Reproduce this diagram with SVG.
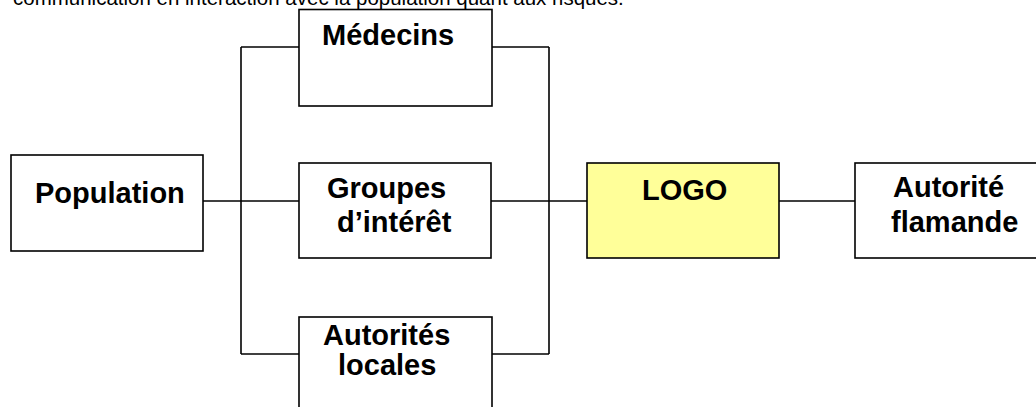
<svg xmlns="http://www.w3.org/2000/svg" width="1036" height="407" viewBox="0 0 1036 407">
<style>
.box{fill:#fff;stroke:#000;stroke-width:1.6}
.logo{fill:#ffff99;stroke:#000;stroke-width:1.6}
.lbl{font-family:"Liberation Sans",Arial,sans-serif;font-weight:bold;font-size:29px;fill:#000}
.head{font-family:"Liberation Sans",Arial,sans-serif;font-size:20.5px;fill:#000}
#connectors path{fill:none;stroke:#000;stroke-width:1.6}
</style>
<rect width="1036" height="407" fill="#fff"/>
<text class="head" x="13" y="4.5">communication en interaction avec la population quant aux risques.</text>
<g id="connectors">
<path d="M203 201H587"/>
<path d="M241 47V354"/>
<path d="M241 47H299"/>
<path d="M241 354H299"/>
<path d="M549 47V354"/>
<path d="M492 47H549"/>
<path d="M492 354H549"/>
<path d="M779 201H855"/>
</g>
<g id="population">
<rect class="box" x="11" y="155" width="192" height="96"/>
<text class="lbl" x="35" y="203">Population</text>
</g>
<g id="medecins">
<rect class="box" x="299" y="9.5" width="193" height="96.5"/>
<text class="lbl" x="322" y="45">Médecins</text>
</g>
<g id="groupes">
<rect class="box" x="299" y="163" width="192" height="95"/>
<text class="lbl" x="327" y="198">Groupes</text>
<text class="lbl" x="337" y="232">d’intérêt</text>
</g>
<g id="locales">
<rect class="box" x="299" y="317" width="193" height="97"/>
<text class="lbl" x="323" y="345">Autorités</text>
<text class="lbl" x="338" y="375">locales</text>
</g>
<g id="logo">
<rect class="logo" x="587" y="163" width="192" height="95"/>
<text class="lbl" x="642" y="200">LOGO</text>
</g>
<g id="flamande">
<rect class="box" x="855" y="163" width="193" height="95"/>
<text class="lbl" x="893" y="197">Autorité</text>
<text class="lbl" x="891" y="232">flamande</text>
</g>
</svg>
